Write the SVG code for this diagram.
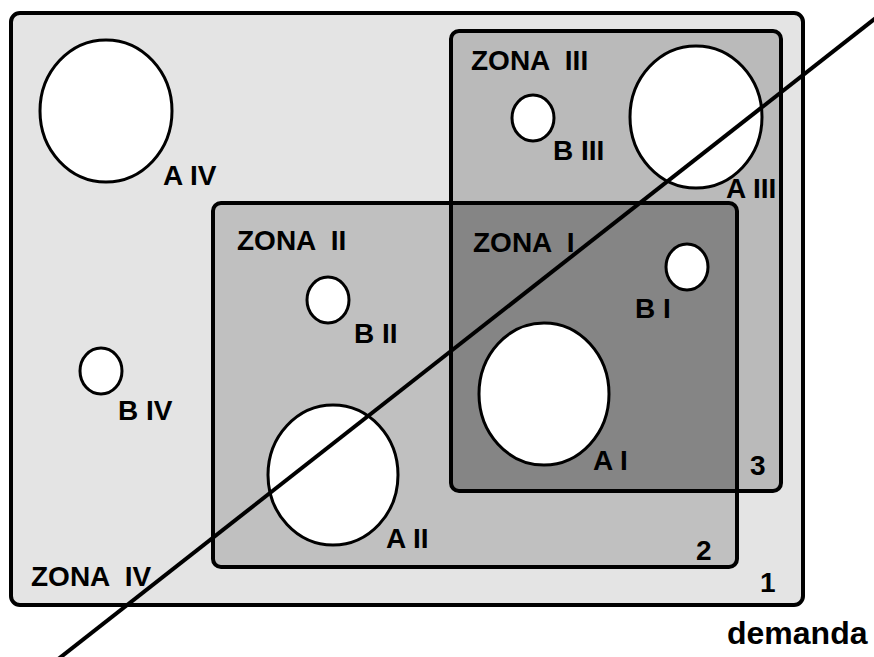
<svg xmlns="http://www.w3.org/2000/svg" width="874" height="657" viewBox="0 0 874 657">
<style>
.frame{stroke:#000;stroke-width:4;fill:none}
.hole{fill:#fff;stroke:#000;stroke-width:3}
.lbl{font-family:"Liberation Sans",Arial,sans-serif;font-weight:bold;font-size:28px;fill:#000;white-space:pre}
</style>
<defs>
<clipPath id="clip3"><rect x="451" y="31" width="330" height="460" rx="8"/></clipPath>
</defs>
<rect width="874" height="657" fill="#fff"/>
<g id="zona4">
<rect x="11" y="13" width="792" height="592" rx="9" fill="#e4e4e4"/>
</g>
<g id="zona3">
<rect x="451" y="31" width="330" height="460" rx="8" fill="#bababa"/>
</g>
<g id="zona2">
<rect x="213" y="203" width="524" height="364" rx="8" fill="#c0c0c0"/>
</g>
<g id="zona1">
<rect x="213" y="203" width="524" height="364" rx="8" fill="#858585" clip-path="url(#clip3)"/>
</g>
<g id="frames">
<rect class="frame" x="11" y="13" width="792" height="592" rx="9"/>
<rect class="frame" x="451" y="31" width="330" height="460" rx="8"/>
<rect class="frame" x="213" y="203" width="524" height="364" rx="8"/>
</g>
<g id="AIV"><ellipse class="hole" cx="106" cy="111" rx="66" ry="71"/><text class="lbl" x="163" y="185">A IV</text></g>
<g id="BIV"><ellipse class="hole" cx="101" cy="371" rx="21" ry="23"/><text class="lbl" x="118" y="420">B IV</text></g>
<g id="AIII"><ellipse class="hole" cx="696" cy="117" rx="66" ry="71"/><text class="lbl" x="726" y="198">A III</text></g>
<g id="BIII"><ellipse class="hole" cx="533" cy="118" rx="21" ry="23"/><text class="lbl" x="553" y="160">B III</text></g>
<g id="AII"><ellipse class="hole" cx="333" cy="475" rx="65" ry="70"/><text class="lbl" x="386" y="548">A II</text></g>
<g id="BII"><ellipse class="hole" cx="328" cy="300" rx="21" ry="23"/><text class="lbl" x="354" y="343">B II</text></g>
<g id="AI"><ellipse class="hole" cx="544" cy="394" rx="65" ry="71"/><text class="lbl" x="593" y="470">A I</text></g>
<g id="BI"><ellipse class="hole" cx="687" cy="267" rx="21" ry="23"/><text class="lbl" x="635" y="318">B I</text></g>
<g id="labels">
<text class="lbl" x="471" y="70">ZONA  III</text>
<text class="lbl" x="237" y="250">ZONA  II</text>
<text class="lbl" x="473" y="252">ZONA  I</text>
<text class="lbl" x="31" y="586">ZONA  IV</text>
<text class="lbl" x="696" y="560">2</text>
<text class="lbl" x="750" y="475">3</text>
<text class="lbl" x="760" y="592">1</text>
<text class="lbl" x="727" y="644" style="font-size:32px">demanda</text>
</g>
<g id="connectors">
<line x1="57" y1="660" x2="877" y2="17" stroke="#000" stroke-width="4"/>
</g>
</svg>
